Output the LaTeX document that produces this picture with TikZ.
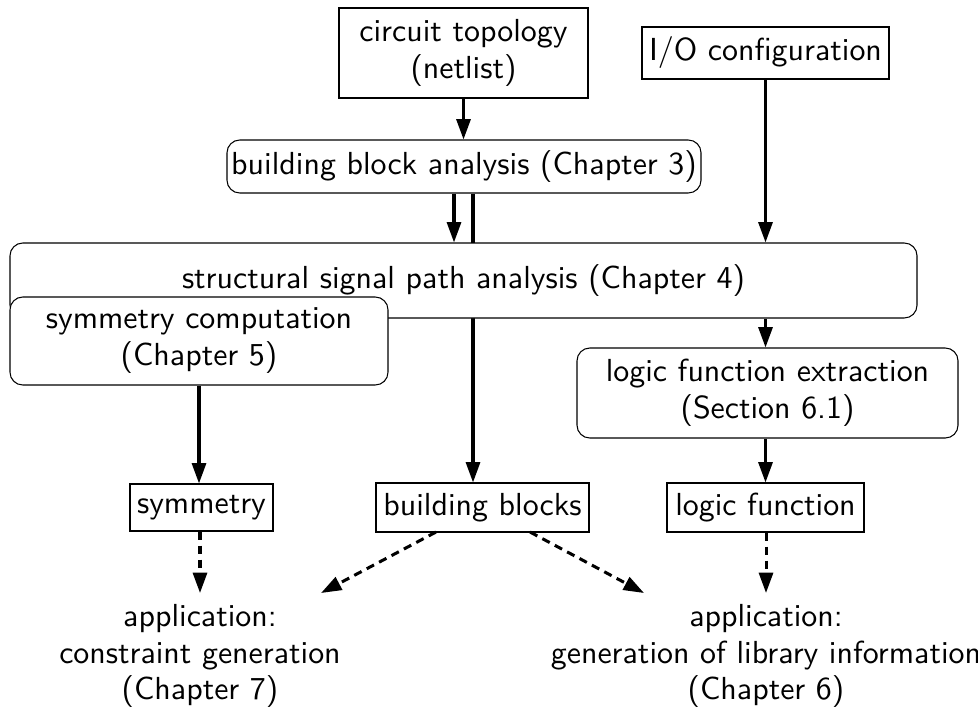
\documentclass[tikz,border=0pt]{standalone}
\usetikzlibrary{arrows.meta}
\newcommand\myu{0.3135pt}
\tikzset{
  base/.style={draw, line width=0.33pt, inner sep=1pt, align=center,
    font=\sffamily\fontsize{10}{11.6}\selectfont},
  rbox/.style={base, rounded corners=4pt, fill=white},
  sbox/.style={base, fill=white},
  txt/.style={inner sep=1pt, align=center, font=\sffamily\fontsize{10}{11.5}\selectfont},
  arr/.style={line width=0.95pt, -{Triangle[length=6.4pt,width=4.4pt]}},
  darr/.style={arr, dash pattern=on 2.6pt off 1.8pt},
}
\begin{document}
\begin{tikzpicture}[x=0.3135pt,y=-0.3135pt]
\useasboundingbox (0,0) rectangle (978,715);
\node[sbox, minimum width=249*\myu, minimum height=90*\myu] (circ) at (463.5,53) {circuit topology\\(netlist)};
\node[sbox, minimum width=247*\myu, minimum height=52*\myu] (io) at (765.5,53) {I/O configuration};
\node[rbox, minimum width=474*\myu, minimum height=53*\myu] (bba) at (464,166.5) {building block analysis (Chapter 3)};
\node[sbox, minimum width=213*\myu, minimum height=49*\myu] (bb) at (482.5,507.5) {building blocks};
\coordinate (xb) at (473,0);
\coordinate (xa) at (454,0);
\draw[arr] (bba.south -| xb) -- (bb.north -| xb);
\node[rbox, minimum width=907*\myu, minimum height=75*\myu] (ssp) at (463.5,280.5) {structural signal path analysis (Chapter 4)};
\node[rbox, minimum width=378*\myu, minimum height=88*\myu] (sym) at (199,341) {symmetry computation\\(Chapter 5)};
\node[rbox, minimum width=381*\myu, minimum height=90*\myu] (lfe) at (767.5,393) {logic function extraction\\(Section 6.1)};
\node[sbox, minimum width=143*\myu, minimum height=47*\myu] (symo) at (201.5,507.5) {symmetry};
\node[sbox, minimum width=197*\myu, minimum height=49*\myu] (lf) at (765.5,507.5) {logic function};
\node[txt] (app1) at (200,656) {application:\\constraint generation\\(Chapter 7)};
\node[txt] (app2) at (766,656) {application:\\generation of library information\\(Chapter 6)};
% solid arrows
\draw[arr] (circ.south) -- (circ.south |- bba.north);
\draw[arr] (bba.south -| xa) -- (ssp.north -| xa);
\draw[arr] (io) -- (io |- ssp.north);
\draw[arr] (ssp.south -| io) -- (io |- lfe.north);
\draw[arr] (sym.south) -- (sym.south |- symo.north);
\draw[arr] (lfe.south -| io) -- (io |- lf.north);
% dashed arrows
\coordinate (d1) at (200,593);
\coordinate (bl) at (436,532);
\coordinate (d2) at (321,593);
\coordinate (br) at (530,532);
\coordinate (d3) at (644,593);
\coordinate (d4) at (766,593);
\draw[darr] (symo.south -| d1) -- (d1);
\draw[darr] (bl) -- (d2);
\draw[darr] (br) -- (d3);
\draw[darr] (lf.south -| d4) -- (d4);
\end{tikzpicture}
\end{document}
